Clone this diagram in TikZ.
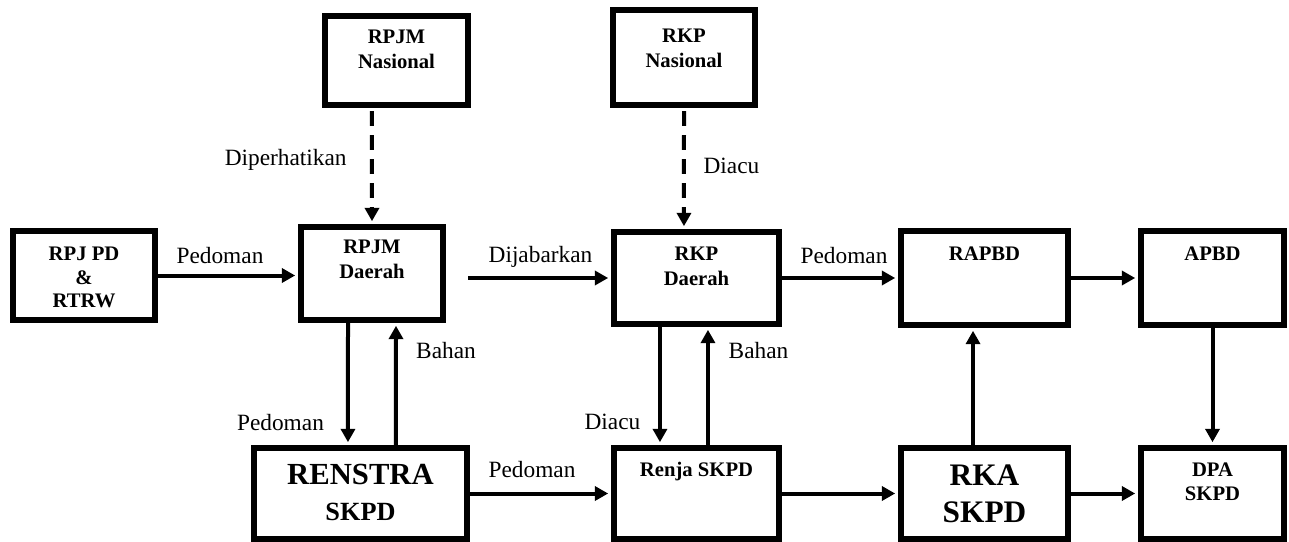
\documentclass[tikz,border=0pt]{standalone}
\usepackage{fontspec}
\setmainfont{Liberation Serif}
\usetikzlibrary{positioning,arrows.meta}

\begin{document}
\begin{tikzpicture}[x=0.75pt, y=-0.75pt,
  box/.style={draw, line width=4.3pt, inner sep=0pt},
  boxtxt/.style={inner sep=0pt, align=center, font=\fontsize{15.5}{18.5}\selectfont\bfseries},
  lbl/.style={inner sep=0pt, anchor=base, font=\fontsize{17.5}{21}\selectfont},
  arr/.style={line width=3pt, -{Triangle[length=10pt,width=10.5pt]}, shorten >=2.2pt},
  dasharr/.style={arr, dash pattern=on 11pt off 7pt, shorten <=2.5pt}]

\useasboundingbox (0,0) rectangle (1289,542);

% top row
\node[box, minimum width=107.25pt, minimum height=66.75pt] (rpjmn) at (396.5,60.5) {};
\node[box, minimum width=106.5pt, minimum height=71.25pt] (rkpn) at (684,57.5) {};
\node[box, minimum width=106.5pt, minimum height=66.75pt] (rpjpd) at (84,275.5) {};
\node[box, minimum width=106.5pt, minimum height=69.75pt] (rpjmd) at (372,273.5) {};
\node[box, minimum width=123.75pt, minimum height=69pt] (rkpd) at (696.5,278) {};
\node[box, minimum width=125.25pt, minimum height=70.5pt] (rapbd) at (984.5,278) {};
\node[box, minimum width=107.25pt, minimum height=70.5pt] (apbd) at (1212.5,278) {};

% bottom row
\node[box, minimum width=159.75pt, minimum height=68.25pt] (renstra) at (360.5,493.5) {};
\node[box, minimum width=123.75pt, minimum height=68.25pt] (renja) at (696.5,493.5) {};
\node[box, minimum width=125.25pt, minimum height=68.25pt] (rka) at (984.5,493.5) {};
\node[box, minimum width=107.25pt, minimum height=68.25pt] (dpa) at (1212.5,493.5) {};

% box texts
\node[boxtxt, below=12.75pt of rpjmn.north] (rpjmnt) {RPJM\\Nasional};
\node[boxtxt, below=16.5pt of rkpn.north] (rkpnt) {RKP\\Nasional};
\node[boxtxt, below=14.25pt of rpjpd.north, font=\fontsize{15.5}{17.6}\selectfont\bfseries] (rpjpdt) {RPJ PD\\\&\\RTRW};
\node[boxtxt, below=12pt of rpjmd.north] (rpjmdt) {RPJM\\Daerah};
\node[boxtxt, below=13.5pt of rkpd.north] (rkpdt) {RKP\\Daerah};
\node[boxtxt, below=13.5pt of rapbd.north] (rapbdt) {RAPBD};
\node[boxtxt, below=13.5pt of apbd.north] (apbdt) {APBD};
\node[boxtxt, below=14.25pt of renstra.north, font=\fontsize{23}{26.5}\selectfont\bfseries] (renstrat) {RENSTRA\\{\fontsize{19.7}{26.5}\selectfont SKPD}};
\node[boxtxt, below=12.75pt of renja.north] (renjat) {Renja SKPD};
\node[boxtxt, below=14.25pt of rka.north, font=\fontsize{23.5}{28}\selectfont\bfseries] (rkat) {RKA\\SKPD};
\node[boxtxt, below=12.75pt of dpa.north] (dpat) {DPA\\SKPD};

% connector labels
\node[lbl] (l1) at (285.7,166) {Diperhatikan};
\node[lbl] (l2) at (731.5,173) {Diacu};
\node[lbl] (l3) at (220,263) {Pedoman};
\node[lbl] (l4) at (540.5,262) {Dijabarkan};
\node[lbl] (l5) at (844,263) {Pedoman};
\node[lbl] (l6) at (446,358) {Bahan};
\node[lbl] (l7) at (758.5,358) {Bahan};
\node[lbl] (l8) at (280.5,430) {Pedoman};
\node[lbl] (l9) at (612.5,429) {Diacu};
\node[lbl] (l10) at (532,477) {Pedoman};

\coordinate (djstart) at (468,278);

\begin{scope}[arr]
\draw (rpjpd.east) -- (rpjpd.east -| rpjmd.west); %rpjpd-rpjmd
\draw (djstart) -- (djstart -| rkpd.west); %rpjmd-rkpd
\draw (rkpd.east) -- (rapbd.west); %rkpd-rapbd
\draw (rapbd.east) -- (apbd.west); %rapbd-apbd
\draw (apbd.south) -- (dpa.north); %apbd-dpa
\draw ([xshift=-8.6pt]rka.north) -- ([xshift=-8.6pt]rapbd.south); %rka-rapbd
\draw (renstra.east) -- (renja.west); %renstra-renja
\draw (renja.east) -- (rka.west); %renja-rka
\draw (rka.east) -- (dpa.west); %rka-dpa
\draw ([xshift=-18pt]rpjmd.south) -- ([xshift=-9.4pt]renstra.north); %rpjmd-renstra
\draw ([xshift=26.6pt]renstra.north) -- ([xshift=18pt]rpjmd.south); %renstra-rpjmd
\draw ([xshift=-27.4pt]rkpd.south) -- ([xshift=-27.4pt]renja.north); %rkpd-renja
\draw ([xshift=8.6pt]renja.north) -- ([xshift=8.6pt]rkpd.south); %renja-rkpd
\end{scope}

\begin{scope}[dasharr]
\draw ([xshift=-18.4pt]rpjmn.south) -- (rpjmd.north); %rpjmn-rpjmd
\draw (rkpn.south) -- ([xshift=-9.4pt]rkpd.north); %rkpn-rkpd
\end{scope}

\end{tikzpicture}
\end{document}
